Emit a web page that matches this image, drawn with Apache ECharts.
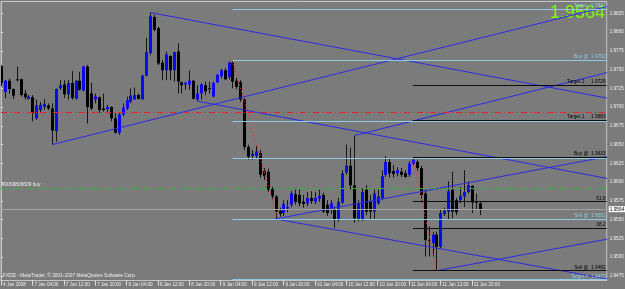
<!DOCTYPE html>
<html><head><meta charset="utf-8">
<script src="https://cdn.jsdelivr.net/npm/echarts@6/dist/echarts.min.js"></script>
<style>html,body{margin:0;padding:0;background:#7b7b7b;overflow:hidden}#c{width:625px;height:289px}</style>
</head><body><div id="c"></div>
<script>
// ---- data (bar index = hourly bar, 0 = 4 Jan 2008 20:00) ----
const opens = [1.9754,1.9720,1.9735,1.9724,1.9737,1.9737,1.9718,1.9711,1.9713,1.9685,
1.9696,1.9700,1.9702,1.9698,1.9668,1.9725,1.9730,1.9717,1.9732,1.9711,
1.9735,1.9722,1.9754,1.9718,1.9710,1.9713,1.9698,1.9697,1.9700,1.9685,
1.9666,1.9690,1.9698,1.9707,1.9710,1.9716,1.9710,1.9742,1.9772,1.9820,
1.9805,1.9759,1.9749,1.9768,1.9749,1.9774,1.9733,1.9730,1.9730,1.9735,
1.9710,1.9718,1.9729,1.9725,1.9714,1.9733,1.9741,1.9749,1.9740,1.9759,
1.9735,1.9733,1.9710,1.9647,1.9635,1.9635,1.9639,1.9615,1.9614,1.9591,
1.9581,1.9562,1.9559,1.9565,1.9570,1.9584,1.9583,1.9574,1.9572,1.9579,
1.9574,1.9578,1.9583,1.9570,1.9563,1.9563,1.9550,1.9573,1.9613,1.9622,
1.9596,1.9551,1.9550,1.9590,1.9574,1.9561,1.9572,1.9579,1.9610,1.9627,
1.9615,1.9612,1.9614,1.9612,1.9610,1.9625,1.9627,1.9619,1.9585,1.9523,
1.9519,1.9530,1.9514,1.9558,1.9561,1.9590,1.9576,1.9576,1.9581,1.9587,
1.9595,1.9574,1.9572];
const closes = [1.9732,1.9735,1.9724,1.9715,1.9736,1.9716,1.9713,1.9714,1.9692,1.9702,
1.9703,1.9704,1.9698,1.9669,1.9724,1.9729,1.9717,1.9732,1.9712,1.9735,
1.9723,1.9754,1.9700,1.9698,1.9714,1.9696,1.9696,1.9700,1.9685,1.9666,
1.9690,1.9699,1.9709,1.9715,1.9716,1.9711,1.9742,1.9773,1.9821,1.9803,
1.9758,1.9749,1.9770,1.9749,1.9773,1.9734,1.9729,1.9732,1.9735,1.9711,
1.9718,1.9730,1.9721,1.9724,1.9732,1.9743,1.9749,1.9737,1.9759,1.9734,
1.9727,1.9710,1.9647,1.9634,1.9638,1.9641,1.9610,1.9608,1.9590,1.9581,
1.9561,1.9558,1.9571,1.9567,1.9585,1.9574,1.9572,1.9571,1.9579,1.9575,
1.9579,1.9582,1.9561,1.9559,1.9572,1.9550,1.9574,1.9612,1.9622,1.9596,
1.9552,1.9572,1.9587,1.9561,1.9561,1.9585,1.9581,1.9608,1.9627,1.9612,
1.9611,1.9616,1.9610,1.9607,1.9625,1.9630,1.9619,1.9583,1.9523,1.9522,
1.9530,1.9514,1.9559,1.9562,1.9588,1.9561,1.9560,1.9582,1.9587,1.9596,
1.9573,1.9573,1.9564];
const lows = [1.9728,1.9712,1.9718,1.9711,1.9734,1.9714,1.9710,1.9710,1.9681,1.9683,
1.9692,1.9696,1.9696,1.9650,1.9654,1.9723,1.9712,1.9710,1.9710,1.9710,
1.9722,1.9721,1.9678,1.9696,1.9705,1.9692,1.9694,1.9692,1.9681,1.9665,
1.9663,1.9688,1.9696,1.9705,1.9710,1.9710,1.9710,1.9741,1.9769,1.9801,
1.9756,1.9736,1.9736,1.9736,1.9734,1.9718,1.9718,1.9723,1.9723,1.9710,
1.9708,1.9710,1.9716,1.9718,1.9713,1.9732,1.9738,1.9736,1.9737,1.9725,
1.9724,1.9707,1.9643,1.9630,1.9630,1.9632,1.9606,1.9603,1.9587,1.9576,
1.9551,1.9554,1.9555,1.9560,1.9567,1.9570,1.9568,1.9566,1.9568,1.9571,
1.9571,1.9574,1.9559,1.9555,1.9558,1.9539,1.9547,1.9571,1.9610,1.9590,
1.9546,1.9548,1.9548,1.9556,1.9550,1.9551,1.9570,1.9576,1.9607,1.9606,
1.9606,1.9608,1.9607,1.9606,1.9607,1.9623,1.9615,1.9573,1.9501,1.9501,
1.9501,1.9482,1.9512,1.9555,1.9550,1.9552,1.9556,1.9572,1.9567,1.9585,
1.9559,1.9563,1.9556];
const highs = [1.9756,1.9736,1.9738,1.9725,1.9754,1.9738,1.9723,1.9716,1.9716,1.9710,
1.9707,1.9711,1.9705,1.9705,1.9725,1.9736,1.9736,1.9736,1.9748,1.9736,
1.9747,1.9755,1.9756,1.9732,1.9718,1.9714,1.9718,1.9703,1.9701,1.9692,
1.9692,1.9705,1.9714,1.9725,1.9726,1.9718,1.9743,1.9792,1.9826,1.9823,
1.9807,1.9763,1.9774,1.9769,1.9774,1.9785,1.9734,1.9734,1.9749,1.9736,
1.9729,1.9732,1.9734,1.9734,1.9734,1.9744,1.9751,1.9752,1.9761,1.9762,
1.9739,1.9736,1.9712,1.9650,1.9643,1.9648,1.9643,1.9619,1.9618,1.9594,
1.9583,1.9566,1.9576,1.9576,1.9588,1.9590,1.9590,1.9583,1.9587,1.9588,
1.9587,1.9590,1.9586,1.9576,1.9576,1.9568,1.9579,1.9616,1.9650,1.9646,
1.9662,1.9576,1.9592,1.9596,1.9583,1.9590,1.9590,1.9616,1.9635,1.9632,
1.9623,1.9620,1.9619,1.9616,1.9628,1.9633,1.9630,1.9622,1.9590,1.9541,
1.9534,1.9534,1.9563,1.9566,1.9601,1.9614,1.9579,1.9594,1.9616,1.9601,
1.9596,1.9585,1.9574];

const tickBars = [0,8,16,24,32,40,48,56,64,72,80,88,96,104,112,120];
const tickLabels = ["4 Jan 2008","7 Jan 04:00","7 Jan 12:00","7 Jan 20:00","8 Jan 04:00","8 Jan 12:00","8 Jan 20:00",
  "9 Jan 04:00","9 Jan 12:00","9 Jan 20:00","10 Jan 04:00","10 Jan 12:00","10 Jan 20:00","11 Jan 04:00","11 Jan 12:00","11 Jan 20:00"];
const priceTicks = [1.9475,1.9500,1.9525,1.9550,1.9575,1.9600,1.9625,1.9650,1.9675,1.9700,1.9725,1.9750,1.9775,1.9800,1.9825];

// trend lines: [bar1, price1, bar2, price2]
const trendLines = [
  [13, 1.9650, 154.5, 1.9834],
  [38, 1.9826, 154.5, 1.9712],
  [50, 1.9708, 154.5, 1.9605],
  [70, 1.9551, 154.5, 1.9634],
  [70, 1.9551, 154.5, 1.9471],
  [111, 1.9482, 154.5, 1.9524],
  [90, 1.9662, 154.5, 1.9746]
];
const zigzagLines = [[59, 1.9762, 70.6, 1.9551], [105, 1.9633, 111, 1.9482]];

// level lines
const skyLevels = [1.9831, 1.9762, 1.9681, 1.9632, 1.9551, 1.9470];
const skyNames  = ["Target   1.9831", "Buy @  1.9762", "", "", "Sell @  1.9551", "Target =  1.9470"];
const skyStartBar = 59;
const fibLevels = [1.9729, 1.9683, 1.9633, 1.9574, 1.9539, 1.9482];
const fibNames  = ["Target 2     1.9729", "Target 1     1.9683", "Buy @  1.9633", "61.8", "38.2", "Sell @  1.9482"];
const fibStartBar = 105;
const redLevel = 1.9693;
const orderLevel = 1.9592;
const orderName = "#2068806609 buy";
const lastPrice = closes[closes.length - 1];

const X_MAX = 154.4;
const chart = echarts.init(document.getElementById('c'));
const candleData = opens.map((o, i) => [i, o, closes[i], lows[i], highs[i]]);

const txt = {color: '#f0f0f0', fontSize: 4.6, fontFamily: 'Liberation Sans'};

const series = [];
const mlData = [];
skyLevels.forEach((v, k) => mlData.push([
  {coord: [skyStartBar, v], lineStyle: {color: '#8ccbe6', width: 1, type: 'solid'},
   label: {show: !!skyNames[k], formatter: skyNames[k], position: 'insideEndTop', distance: 1, color: '#8ccbe6', fontSize: 4.8, fontFamily: 'Liberation Sans'}},
  {coord: [X_MAX, v]}]));
fibLevels.forEach((v, k) => mlData.push([
  {coord: [fibStartBar, v], lineStyle: {color: '#0d0d0d', width: 1, type: 'solid'},
   label: {show: true, formatter: fibNames[k], position: 'insideEndTop', distance: 1, color: '#000', fontSize: 4.8, fontFamily: 'Liberation Sans'}},
  {coord: [X_MAX, v]}]));
mlData.push([{coord: [0, redLevel], lineStyle: {color: '#e8242a', width: 1, type: [6, 3, 1, 3]}, label: {show: false}}, {coord: [X_MAX, redLevel]}]);
mlData.push([{coord: [0, orderLevel], lineStyle: {color: '#2fb52f', width: 1, type: [6, 3, 1, 3]},
  label: {show: true, formatter: orderName, position: 'insideStartTop', distance: 1, color: '#f0f0f0', fontSize: 4.8, fontFamily: 'Liberation Sans'}}, {coord: [X_MAX, orderLevel]}]);
mlData.push([{coord: [0, lastPrice], lineStyle: {color: '#a4a4a4', width: 1, type: 'solid'},
  label: {show: true, formatter: lastPrice.toFixed(4), position: 'end', distance: 2, color: '#000', backgroundColor: '#fff', padding: [1, 1, 0, 1], fontSize: 4.8, fontFamily: 'Liberation Sans'}}, {coord: [X_MAX, lastPrice]}]);

series.push({type: 'line', data: [], silent: true, markLine: {symbol: 'none', silent: true, animation: false, data: mlData}});

trendLines.forEach(t => series.push({type: 'line', data: [[t[0], t[1]], [t[2], t[3]]], symbol: 'none', clip: true, silent: true,
  lineStyle: {color: '#2a2ae6', width: 1}, animation: false}));
zigzagLines.forEach(t => series.push({type: 'line', data: [[t[0], t[1]], [t[2], t[3]]], symbol: 'none', clip: true, silent: true,
  lineStyle: {color: '#ff2a2a', width: 1, type: [1.5, 2]}, animation: false}));

series.push({
  type: 'custom', clip: true, animation: false, data: candleData,
  encode: {x: 0, y: [1, 2, 3, 4]},
  renderItem: function (params, api) {
    const i = api.value(0), o = api.value(1), c = api.value(2), l = api.value(3), h = api.value(4);
    const pO = api.coord([i, o]), pC = api.coord([i, c]), pL = api.coord([i, l]), pH = api.coord([i, h]);
    const x = Math.round(pO[0]) + 0.5;
    const up = c > o;
    const top = Math.min(pO[1], pC[1]);
    const bh = Math.max(1, Math.abs(pO[1] - pC[1]));
    return {type: 'group', children: [
      {type: 'line', shape: {x1: x, y1: pH[1], x2: x, y2: pL[1]}, style: {stroke: '#161616', lineWidth: 1}},
      {type: 'rect', shape: {x: x - 1.5, y: top, width: 3, height: bh}, style: {fill: up ? '#0a0af0' : '#000000'}}
    ]};
  }
});

chart.setOption({
  backgroundColor: '#7b7b7b',
  animation: false,
  grid: {left: 1, right: 18.3, top: 1.5, bottom: 8.5, show: true, borderColor: '#c4c4c4', borderWidth: 1, containLabel: false, outerBoundsMode: 'none'},
  xAxis: {
    type: 'value', min: 0, max: X_MAX, position: 'bottom',
    splitLine: {show: false},
    axisLine: {show: true, lineStyle: {color: '#c4c4c4'}},
    axisTick: {show: true, customValues: tickBars, length: 5, lineStyle: {color: '#e0e0e0'}},
    axisLabel: {customValues: tickBars, formatter: v => tickLabels[tickBars.indexOf(Math.round(v))] || '',
      align: 'left', margin: 1.5, padding: [0, 0, 0, 2], ...txt}
  },
  yAxis: {
    type: 'value', position: 'right', min: 1.9469, max: 1.98407, scale: true,
    splitLine: {show: false},
    axisLine: {show: true, lineStyle: {color: '#c4c4c4'}},
    axisTick: {show: true, customValues: priceTicks, length: 2, lineStyle: {color: '#e0e0e0'}},
    axisLabel: {customValues: priceTicks, formatter: v => v.toFixed(4), margin: 3, ...txt}
  },
  graphic: [
    {type: 'text', right: 20, top: 4, style: {text: lastPrice.toFixed(4), fill: '#7cfc00', font: '18px "Liberation Sans"'}},
    {type: 'text', left: 3, top: 273, style: {text: 'FXDD - MetaTrader, \u00a9 2001-2007 MetaQuotes Software Corp.', fill: '#f0f0f0', font: '4.8px "Liberation Sans"'}}
  ],
  series: series
});
</script>
</body></html>
